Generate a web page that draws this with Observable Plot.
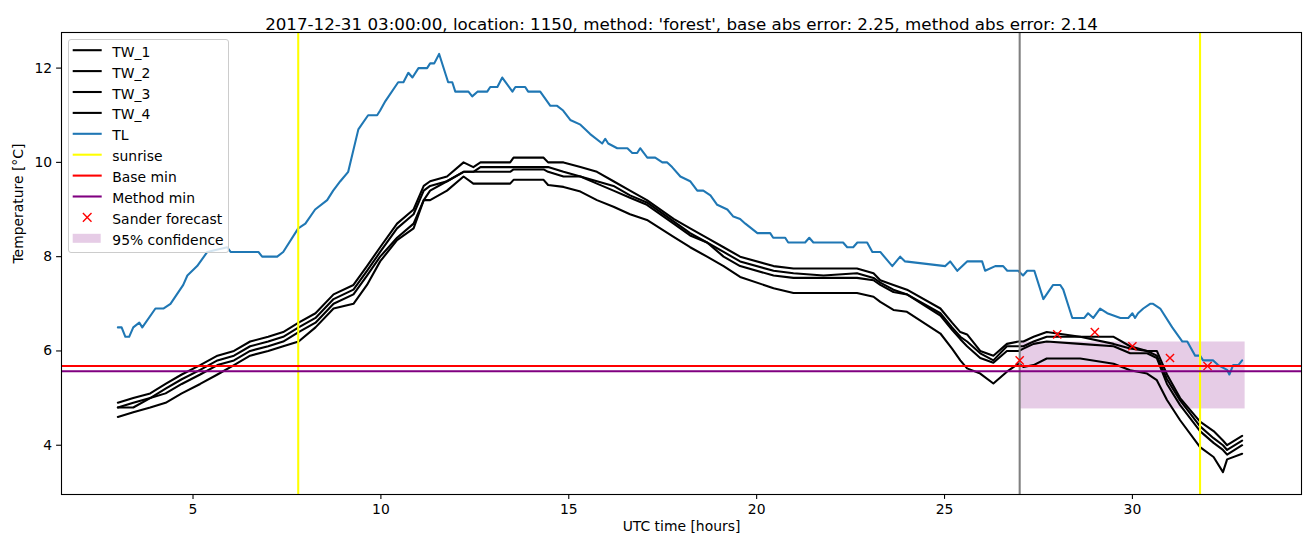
<!DOCTYPE html>
<html><head><meta charset="utf-8">
<script src="https://cdn.jsdelivr.net/npm/d3@7"></script>
<script src="https://cdn.jsdelivr.net/npm/@observablehq/plot@0.6"></script>
<style>
html,body{margin:0;padding:0;background:#fff;}
#wrap{position:relative;width:1310px;height:547px;font-family:"DejaVu Sans",sans-serif;}
#legend{position:absolute;left:68px;top:39px;width:161px;height:214px;box-sizing:border-box;border:1px solid #cccccc;border-radius:3px;background:rgba(255,255,255,0.8);}
#legend svg{position:absolute;left:0;top:0;}
</style></head><body><div id="wrap"><div id="legend"></div></div>
<script>
// ---- data ----
const twHours = [3.0,3.41,3.86,4.27,4.7,5.19,5.65,6.09,6.52,7.0,7.4,7.81,8.26,8.74,9.27,9.63,9.98,10.43,10.87,11.14,11.31,11.76,12.2,12.46,12.65,13.0,13.44,13.53,14.33,14.45,14.86,15.31,15.75,16.19,16.63,17.08,17.79,18.23,18.68,19.12,19.56,20.45,20.98,21.78,22.67,23.11,23.29,23.64,24.0,24.89,25.2,25.42,25.6,25.95,26.3,26.66,26.97,27.1,27.37,27.72,28.61,29.5,29.94,30.39,30.65,30.92,31.27,31.8,32.16,32.41,32.52,32.92];
const tw1 = [4.9,5.0,5.1,5.3,5.5,5.7,5.9,6.0,6.2,6.3,6.4,6.6,6.8,7.2,7.4,7.8,8.2,8.7,9.0,9.5,9.6,9.7,10.0,9.9,10.0,10.0,10.0,10.1,10.1,10.0,10.0,9.9,9.8,9.6,9.4,9.2,8.8,8.6,8.4,8.2,8.0,7.8,7.75,7.75,7.75,7.65,7.5,7.4,7.3,6.9,6.6,6.4,6.35,6.0,5.9,6.15,6.2,6.2,6.3,6.4,6.3,6.3,6.1,6.0,6.0,5.5,5.0,4.5,4.3,4.1,4.0,4.2];
const tw2 = [4.8,4.9,5.0,5.2,5.4,5.6,5.8,5.9,6.1,6.2,6.3,6.5,6.7,7.1,7.3,7.7,8.1,8.6,8.9,9.4,9.5,9.6,9.8,9.8,9.9,9.9,9.9,9.9,9.9,9.9,9.8,9.7,9.6,9.5,9.3,9.15,8.75,8.5,8.3,8.1,7.9,7.7,7.65,7.6,7.65,7.55,7.45,7.3,7.2,6.8,6.5,6.3,6.2,5.95,5.8,6.1,6.1,6.1,6.2,6.3,6.3,6.15,6.05,6.0,5.9,5.4,4.95,4.4,4.15,4.0,3.9,4.1];
const tw3 = [4.8,4.8,5.0,5.1,5.3,5.5,5.7,5.8,6.0,6.1,6.2,6.4,6.6,7.0,7.2,7.6,8.0,8.4,8.7,9.2,9.4,9.6,9.8,9.8,9.8,9.8,9.8,9.85,9.85,9.8,9.7,9.7,9.55,9.4,9.25,9.1,8.7,8.45,8.3,8.0,7.8,7.6,7.55,7.55,7.55,7.5,7.4,7.25,7.2,6.75,6.45,6.25,6.1,5.85,5.75,6.0,6.0,6.05,6.15,6.2,6.15,6.1,5.95,5.95,5.85,5.3,4.85,4.3,4.05,3.9,3.8,4.0];
const tw4 = [4.6,4.7,4.8,4.9,5.1,5.3,5.5,5.7,5.9,6.0,6.1,6.2,6.5,6.9,7.0,7.4,7.9,8.35,8.6,9.2,9.2,9.4,9.7,9.55,9.55,9.55,9.55,9.63,9.63,9.52,9.48,9.38,9.2,9.06,8.9,8.78,8.42,8.2,8.0,7.8,7.57,7.33,7.23,7.23,7.23,7.15,7.04,6.87,6.83,6.37,6.05,5.8,5.63,5.52,5.31,5.56,5.73,5.66,5.7,5.84,5.84,5.73,5.59,5.52,5.38,4.96,4.53,3.96,3.75,3.43,3.7,3.82];
const tlHours = [3.0,3.1,3.2,3.3,3.41,3.57,3.65,4.0,4.21,4.4,4.74,4.85,5.11,5.38,5.91,6.0,6.74,6.84,7.24,7.4,7.8,7.99,8.25,8.57,8.73,8.92,9.13,9.4,9.66,9.9,9.98,10.12,10.46,10.6,10.73,10.84,11.0,11.23,11.31,11.42,11.55,11.79,11.9,11.98,12.33,12.43,12.57,12.83,12.91,13.1,13.23,13.5,13.58,13.84,13.92,14.24,14.51,14.69,14.85,15.04,15.31,15.57,15.89,15.97,16.05,16.29,16.56,16.69,16.82,16.9,17.09,17.3,17.49,17.62,17.75,17.97,18.23,18.42,18.58,18.77,18.95,19.22,19.38,19.56,19.7,20.02,20.36,20.44,20.76,20.84,21.29,21.4,21.51,22.3,22.41,22.57,22.68,22.94,23.08,23.29,23.61,23.82,23.95,25.02,25.15,25.34,25.6,26.0,26.08,26.35,26.56,26.67,26.96,27.09,27.2,27.39,27.63,27.89,28.08,28.16,28.4,28.72,28.82,28.96,29.14,29.33,29.68,29.89,30.0,30.07,30.15,30.29,30.47,30.55,30.74,31.06,31.33,31.46,31.67,31.8,31.88,32.02,32.15,32.28,32.52,32.58,32.68,32.82,32.92];
const tlTemp = [6.5,6.5,6.3,6.3,6.5,6.6,6.5,6.9,6.9,7.0,7.4,7.6,7.8,8.1,8.2,8.1,8.1,8.0,8.0,8.1,8.6,8.7,9.0,9.2,9.4,9.6,9.8,10.7,11.0,11.0,11.1,11.3,11.7,11.7,11.9,11.8,12.0,12.0,12.1,12.1,12.3,11.7,11.7,11.5,11.5,11.4,11.5,11.5,11.6,11.6,11.8,11.5,11.6,11.6,11.5,11.5,11.2,11.2,11.1,10.9,10.8,10.6,10.4,10.5,10.4,10.3,10.3,10.2,10.2,10.3,10.1,10.1,10.0,10.0,9.9,9.7,9.6,9.4,9.4,9.3,9.1,9.0,8.85,8.8,8.7,8.5,8.5,8.4,8.4,8.3,8.3,8.4,8.3,8.3,8.2,8.2,8.3,8.3,8.1,8.1,7.8,8.0,7.9,7.8,7.9,7.7,7.9,7.9,7.7,7.8,7.8,7.7,7.7,7.6,7.7,7.7,7.1,7.4,7.4,7.3,6.7,6.7,6.8,6.7,6.9,6.8,6.7,6.7,6.8,6.7,6.8,6.9,7.0,7.0,6.9,6.5,6.2,6.2,5.9,5.9,5.8,5.8,5.8,5.7,5.6,5.5,5.7,5.7,5.8];
const sunriseHours = [7.8, 31.8];
const forecastStartHours = [27];
const baseMin = [5.68];
const methodMin = [5.57];
const sanderHours = [27, 28, 29, 30, 31, 32];
const sanderTemp = [5.8, 6.35, 6.4, 6.1, 5.85, 5.68];
const confHours = [27, 33];
const confTemp = [4.77, 6.19];
const xTicks = [5, 10, 15, 20, 25, 30];
const yTicks = [4, 6, 8, 10, 12];
const twNames = ["TW_1", "TW_2", "TW_3", "TW_4"];
const legendNames = ["TW_1", "TW_2", "TW_3", "TW_4", "TL", "sunrise", "Base min", "Method min", "Sander forecast", "95% confidence"];
const titleText = "2017-12-31 03:00:00, location: 1150, method: 'forest', base abs error: 2.25, method abs error: 2.14";
const xLabel = "UTC time [hours]";
const yLabel = "Temperature [°C]";

// ---- tables built from the arrays ----
const twSeries = [tw1, tw2, tw3, tw4];
const twRows = twSeries.flatMap((vals, i) => vals.map((t, j) => ({series: twNames[i], h: twHours[j], t})));
const tlRows = tlHours.map((h, i) => ({h, t: tlTemp[i]}));
const sanderRows = sanderHours.map((h, i) => ({h, t: sanderTemp[i]}));
const confRows = [{x1: confHours[0], x2: confHours[1], y1: confTemp[0], y2: confTemp[1]}];

const LW = 2.08;
const font = "DejaVu Sans, sans-serif";

const chart = Plot.plot({
  width: 1310, height: 547,
  marginLeft: 61, marginRight: 9, marginTop: 32, marginBottom: 53,
  x: {domain: [1.5, 34.5]},
  y: {domain: [2.955, 12.755]},
  style: {fontFamily: font, fontSize: "13.9px", color: "black", background: "white", overflow: "visible"},
  marks: [
    Plot.rect(confRows, {x1: "x1", x2: "x2", y1: "y1", y2: "y2", fill: "purple", fillOpacity: 0.2}),
    Plot.line(twRows, {x: "h", y: "t", z: "series", stroke: "black", strokeWidth: LW}),
    Plot.line(tlRows, {x: "h", y: "t", stroke: "#1f77b4", strokeWidth: LW}),
    Plot.ruleX(forecastStartHours, {stroke: "gray", strokeWidth: LW}),
    Plot.ruleX(sunriseHours, {stroke: "yellow", strokeWidth: LW}),
    Plot.ruleY(baseMin, {stroke: "red", strokeWidth: LW}),
    Plot.ruleY(methodMin, {stroke: "purple", strokeWidth: LW}),
    Plot.dot(sanderRows, {x: "h", y: "t", symbol: "times", r: 3.8, stroke: "red", strokeWidth: 1.4}),
    Plot.frame({stroke: "black", strokeWidth: 1.1}),
    Plot.axisX(xTicks, {tickSize: 4.9, tickPadding: 4.5, strokeWidth: 1.1, fontSize: 13.9, label: null, tickFormat: d => String(d)}),
    Plot.axisY(yTicks, {tickSize: 4.9, tickPadding: 4.5, strokeWidth: 1.1, fontSize: 13.9, label: null, tickFormat: d => String(d)}),
    Plot.text([titleText], {frameAnchor: "top", dy: -14, text: d => d, fontSize: 16.7, fill: "black"}),
    Plot.text([xLabel], {frameAnchor: "bottom", dy: 36, text: d => d, fontSize: 13.9, fill: "black"}),
    Plot.text([yLabel], {frameAnchor: "left", dx: -43, rotate: -90, text: d => d, fontSize: 13.9, fill: "black"})
  ]
});
const wrap = document.getElementById("wrap");
wrap.insertBefore(chart, wrap.firstChild);

// ---- legend ----
const legendStyle = {
  "TW_1": {type: "line", color: "black"},
  "TW_2": {type: "line", color: "black"},
  "TW_3": {type: "line", color: "black"},
  "TW_4": {type: "line", color: "black"},
  "TL": {type: "line", color: "#1f77b4"},
  "sunrise": {type: "line", color: "yellow"},
  "Base min": {type: "line", color: "red"},
  "Method min": {type: "line", color: "purple"},
  "Sander forecast": {type: "x", color: "red"},
  "95% confidence": {type: "patch", color: "purple"}
};
const lsvg = d3.select("#legend").append("svg").attr("width", 159).attr("height", 212);
legendNames.forEach((name, i) => {
  const cy = 11.7 + i * 20.9;
  const st = legendStyle[name];
  if (st.type === "line") {
    lsvg.append("line").attr("x1", 3.7).attr("x2", 32.7).attr("y1", cy - 1.5).attr("y2", cy - 1.5)
      .attr("stroke", st.color).attr("stroke-width", LW);
  } else if (st.type === "x") {
    lsvg.append("path").attr("d", d3.symbol(d3.symbolTimes, 50)())
      .attr("transform", `translate(18.2,${cy - 1.5})`).attr("stroke", st.color).attr("stroke-width", 1.4).attr("fill", "none");
  } else {
    lsvg.append("rect").attr("x", 3.7).attr("y", cy - 6).attr("width", 28).attr("height", 9)
      .attr("fill", st.color).attr("fill-opacity", 0.2);
  }
  lsvg.append("text").attr("x", 43.3).attr("y", cy).attr("dominant-baseline", "central")
    .attr("font-family", font).attr("font-size", "13.9px").attr("fill", "black").text(name);
});
</script>
</body></html>
